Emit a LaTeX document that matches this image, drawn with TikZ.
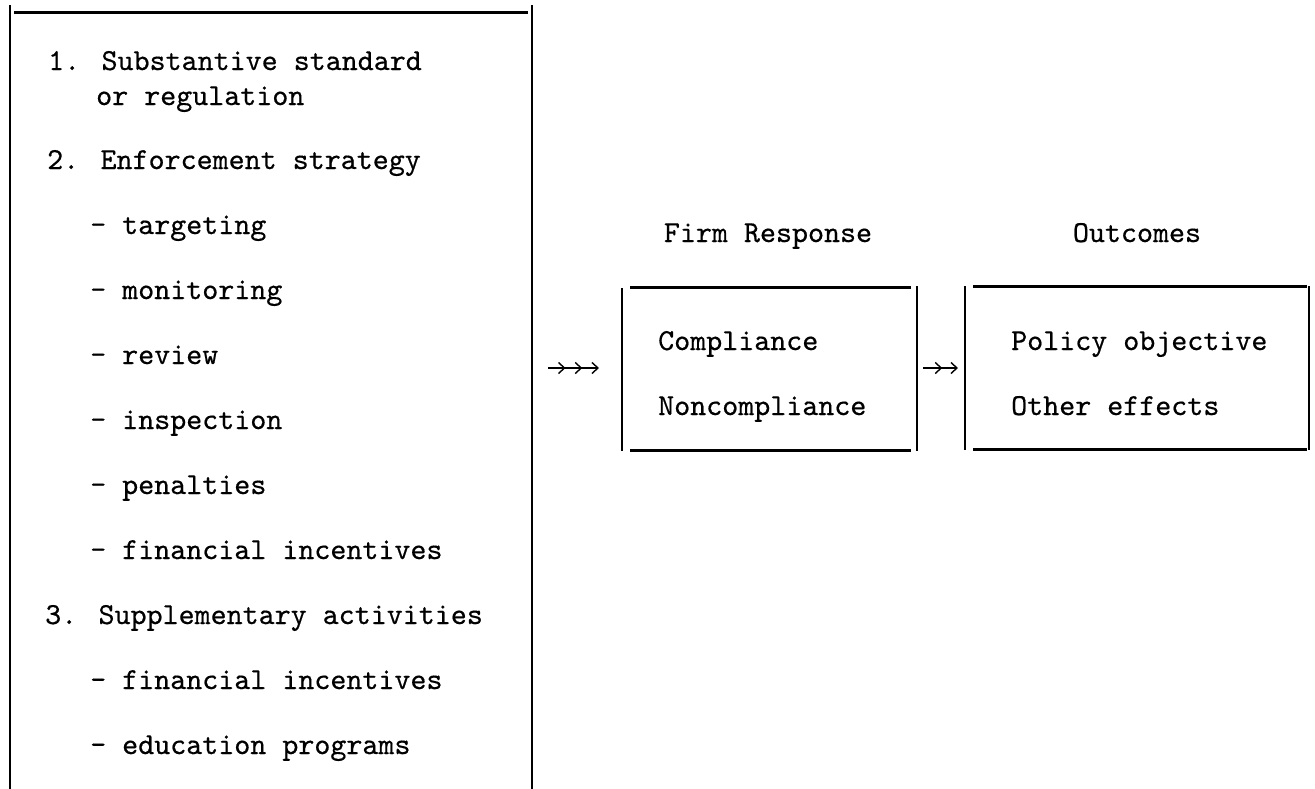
\documentclass[tikz,border=0pt]{standalone}
\usepackage{fontspec}
\newfontfamily\courlike{lmmono10-regular.otf}[FakeBold=0.5]
\usetikzlibrary{arrows.meta}
\tikzset{
  txt/.style={anchor=base west, inner sep=0pt, font=\fontsize{30.5}{36}\courlike},
  ctxt/.style={anchor=base, inner sep=0pt, font=\fontsize{30.5}{36}\courlike},
  vside/.style={line width=2pt},
  hside/.style={line width=3pt},
  flow/.style={line width=1.4pt, -{Straight Barb[length=6pt,width=11pt,sep=9pt]Straight Barb[length=6pt,width=11pt,sep=9pt]Straight Barb[length=6pt,width=11pt]}},
  flowtwo/.style={line width=1.4pt, -{Straight Barb[length=6pt,width=11pt,sep=8pt]Straight Barb[length=6pt,width=11pt]}}
}
\begin{document}
\begin{tikzpicture}[x=1pt,y=-1pt]
\useasboundingbox[fill=white] (0,0) rectangle (1315,788);
% left box
\draw[vside] (10,5) -- (10,790);
\draw[vside] (532,5) -- (532,790);
\draw[hside] (14,12) -- (528,12);
\node[txt] (t1) at (48,70) {1. Substantive standard};
\node[txt] (t1b) at (96,105) {or regulation};
\node[txt] (t2) at (47,169) {2. Enforcement strategy};
\node[txt] (t2a) at (90,234) {- targeting};
\node[txt] (t2b) at (90,299) {- monitoring};
\node[txt] (t2c) at (90,364) {- review};
\node[txt] (t2d) at (90,429) {- inspection};
\node[txt] (t2e) at (90,494) {- penalties};
\node[txt] (t2f) at (90,559) {- financial incentives};
\node[txt] (t3) at (45,624) {3. Supplementary activities};
\node[txt] (t3a) at (90,689) {- financial incentives};
\node[txt] (t3b) at (90,754) {- education programs};
% firm response
\node[ctxt] (fr) at (768,242) {Firm Response};
\draw[vside] (622,288) -- (622,451);
\draw[vside] (917,286) -- (917,451);
\draw[hside] (630,287) -- (911,287);
\draw[hside] (630,450) -- (911,450);
\node[txt] (comp) at (658,350) {Compliance};
\node[txt] (ncomp) at (658,415) {Noncompliance};
% outcomes
\node[ctxt] (oc) at (1137,242) {Outcomes};
\draw[vside] (965,286) -- (965,450);
\draw[vside] (1309,286) -- (1309,450);
\draw[hside] (973,286) -- (1307,286);
\draw[hside] (973,449) -- (1307,449);
\node[txt] (pol) at (1011,350) {Policy objective};
\node[txt] (oth) at (1011,415) {Other effects};
% arrows
\coordinate (a1) at (548,368);
\coordinate (a2) at (599,368);
\coordinate (b1) at (923,368);
\coordinate (b2) at (958,368);
\draw[flow] (a1) -- (a2);
\draw[flowtwo] (b1) -- (b2);
\end{tikzpicture}
\end{document}
